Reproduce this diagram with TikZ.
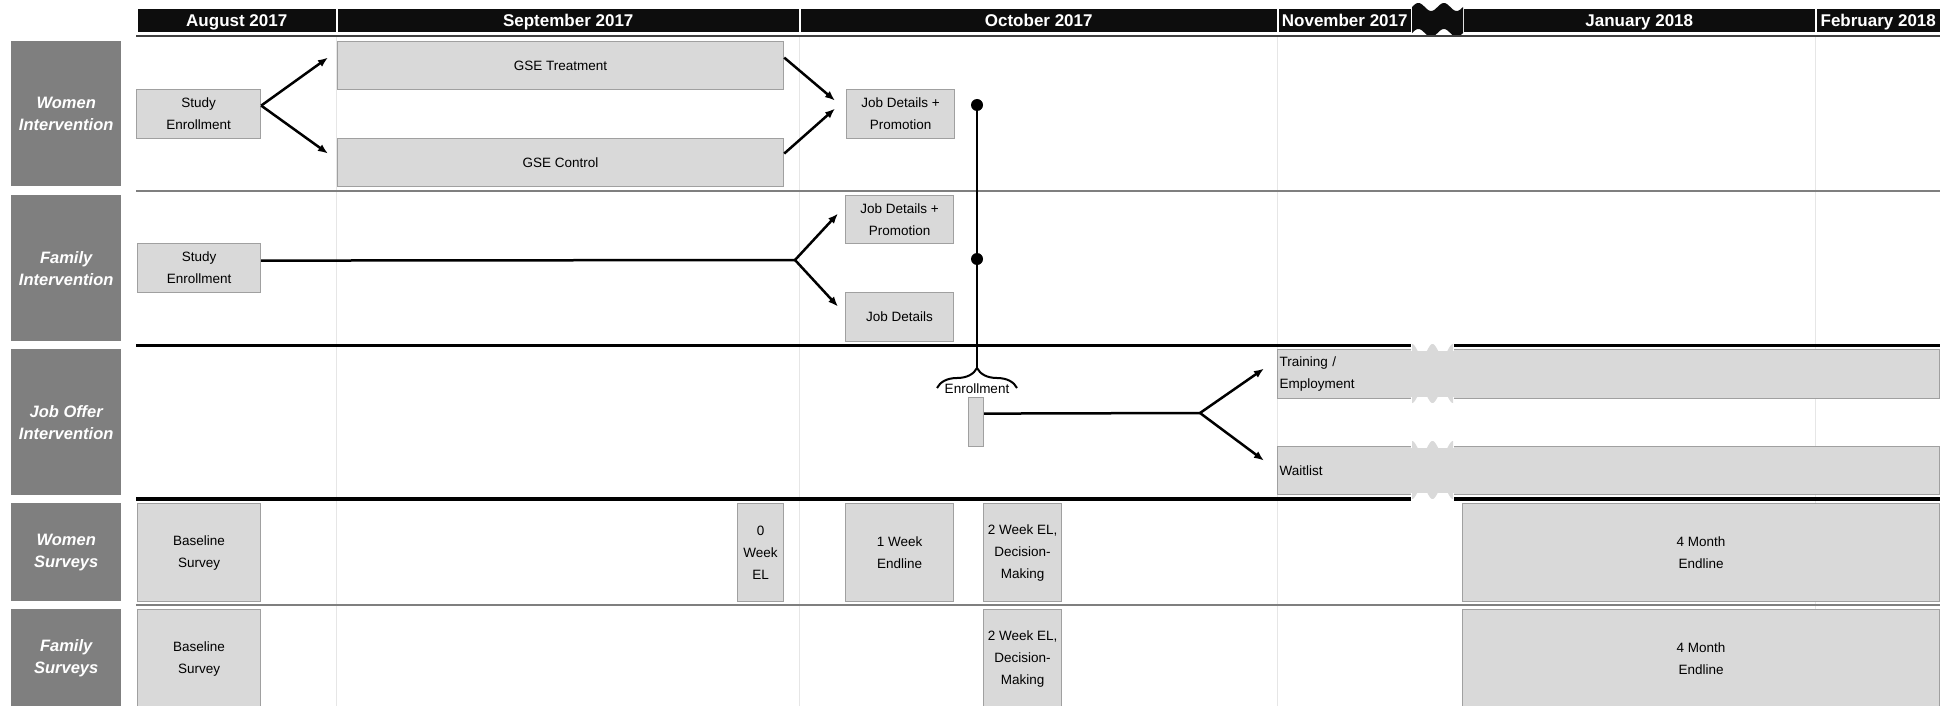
\documentclass[tikz,border=0pt]{standalone}
\usepackage{fontspec}
\setmainfont{Liberation Sans}
\usepackage{tikz}
\usetikzlibrary{arrows.meta,decorations.pathreplacing}

\definecolor{boxgray}{HTML}{D9D9D9}
\definecolor{boxline}{HTML}{A0A0A0}
\definecolor{rowgray}{HTML}{7F7F7F}
\definecolor{gridgray}{HTML}{E6E6E6}

\begin{document}
\begin{tikzpicture}[x=1pt, y=-1pt,
	month/.style={draw=white, line width=1.5pt, fill=black!95, text=white, anchor=north west, minimum height=24pt, inner sep=0pt, text height=12.2pt, text depth=0pt, font=\fontsize{17}{20}\selectfont\bfseries},
	rowlabel/.style={fill=rowgray, text=white, anchor=north west, minimum width=110pt, inner sep=0pt, align=center, font=\fontsize{16.5}{22}\selectfont\bfseries\itshape},
	stage/.style={draw=boxline, line width=1.2pt, fill=boxgray, anchor=north west, inner sep=2pt, align=center, font=\fontsize{13.5}{22}\selectfont},
	link/.style={line width=2.5pt},
	conn/.style={link, -{Latex[length=10pt,width=8pt]}},
	dot/.style={circle, fill=black, inner sep=0pt, minimum size=12pt}]
	\useasboundingbox (0,0) rectangle (1944,706);
	% month grid
	\foreach \gx in {336,799,1277,1815}
		\draw[gridgray, line width=1pt] (\gx,36) -- (\gx,706);
	\node[month, minimum width=200pt] (aug) at (136,8) {August 2017};
	\node[month, minimum width=463pt] (sep) at (336,8) {September 2017};
	\node[month, minimum width=478pt] (oct) at (799,8) {October 2017};
	\node[month, minimum width=134pt] (nov) at (1277,8) {November 2017};
	\node[month, minimum width=353pt] (jan) at (1462,8) {January 2018};
	\node[month, minimum width=125pt] (feb) at (1815,8) {February 2018};
	\fill[black!95] plot[domain=0:51, samples=52] ({1412+\x},{7-4*sin(14.118*\x)}) -- plot[domain=51:0, samples=52] ({1412+\x},{33-4*sin(14.118*\x)}) -- cycle;
	\draw[black!75, line width=1.5pt] (136,36) -- (1940,36);
	% row separators
	\draw[rowgray, line width=2pt] (136,191) -- (1940,191);
	\draw[line width=3pt] (136,345) -- (1940,345);
	\draw[line width=3.5pt] (136,499) -- (1940,499);
	\draw[rowgray, line width=2pt] (136,605) -- (1940,605);
	% row labels
	\node[rowlabel, minimum height=145pt] (wint) at (11,41) {Women\\Intervention};
	\node[rowlabel, minimum height=146pt] (fint) at (11,195) {Family\\Intervention};
	\node[rowlabel, minimum height=146pt] (jint) at (11,349) {Job Offer\\Intervention};
	\node[rowlabel, minimum height=98pt] (wsur) at (11,503) {Women\\Surveys};
	\node[rowlabel, minimum height=99pt] (fsur) at (11,609) {Family\\Surveys};
	% women intervention
	\node[stage, minimum width=124pt, minimum height=49pt] (sew) at (136,89) {Study\\Enrollment};
	\node[stage, minimum width=446pt, minimum height=48pt] (gset) at (337,41) {GSE Treatment};
	\node[stage, minimum width=446pt, minimum height=48pt] (gsec) at (337,138) {GSE Control};
	\node[stage, minimum width=108pt, minimum height=49pt] (jdpw) at (846,89) {Job Details +\\Promotion};
	\draw[conn] ([yshift=8.5pt]sew.east) -- ([xshift=-9pt,yshift=8pt]gset.west);
	\draw[conn] ([yshift=8.5pt]sew.east) -- ([xshift=-9pt,yshift=9pt]gsec.west);
	\draw[conn] ([yshift=8pt]gset.east) -- ([xshift=-11pt,yshift=13.5pt]jdpw.west);
	\draw[conn] ([yshift=9pt]gsec.east) -- ([xshift=-11pt,yshift=5.5pt]jdpw.west);
	% family intervention
	\node[stage, minimum width=123pt, minimum height=49pt] (sef) at (137,243) {Study\\Enrollment};
	\node[stage, minimum width=108pt, minimum height=48pt] (jdpf) at (845,195) {Job Details +\\Promotion};
	\node[stage, minimum width=108pt, minimum height=49pt] (jdf) at (845,292) {Job Details};
	\coordinate (ff) at (795,260);
	\draw[link] ([yshift=7.5pt]sef.east) -- (ff);
	\draw[conn] (ff) -- ([xshift=-7pt,yshift=6pt]jdpf.west);
	\draw[conn] (ff) -- ([xshift=-7pt,yshift=10.5pt]jdf.west);
	% enrollment into job offer
	\node[dot] (dw) at (977,105) {};
	\node[dot] (df) at (977,259) {};
	\coordinate (bl) at (937,388);
	\coordinate (br) at (1017,388);
	\coordinate (btip) at (977,368);
	\draw[link] (dw.center) -- (btip);
	\draw[line width=2pt, decorate, decoration={brace, amplitude=20pt}] (bl) -- (br);
	\node[font=\fontsize{13.5}{16}\selectfont] (enrl) at (977,389) {Enrollment};
	\node[stage, minimum width=15pt, minimum height=49pt] (enr) at (968,397) {};
	\node[stage, text width=658pt, align=left, minimum height=49pt] (train) at (1277,349) {Training /\\Employment};
	\node[stage, text width=658pt, align=left, minimum height=48pt] (wait) at (1277,446) {Waitlist};
	\coordinate (fj) at (1200,413);
	\draw[link] ([yshift=8.5pt]enr.east) -- (fj);
	\draw[conn] (fj) -- ([xshift=-13pt,yshift=5.5pt]train.west);
	\draw[conn] (fj) -- ([xshift=-13pt,yshift=10pt]wait.west);
	\foreach \yt/\yb in {349/398,446/494}{
		\fill[white] (1411,\yt-6) rectangle (1454,\yt+1.5);
		\fill[white] (1411,\yb-1.5) rectangle (1454,\yb+7);
		\fill[boxgray] plot[domain=0:41, samples=42] ({1412+\x},{\yt+1-6*cos(17.56*\x)}) -- plot[domain=41:0, samples=42] ({1412+\x},{\yb-1+6*cos(17.56*\x)}) -- cycle;
	}
	% surveys
	\node[stage, minimum width=123pt, minimum height=98pt] (bsw) at (137,503) {Baseline\\Survey};
	\node[stage, minimum width=46pt, minimum height=98pt] (zw) at (737,503) {0\\Week\\EL};
	\node[stage, minimum width=108pt, minimum height=98pt] (ow) at (845,503) {1 Week\\Endline};
	\node[stage, minimum width=78pt, minimum height=98pt] (tw) at (983,503) {2 Week EL,\\Decision-\\Making};
	\node[stage, minimum width=477pt, minimum height=98pt] (mw) at (1462,503) {4 Month\\Endline};
	\node[stage, minimum width=123pt, minimum height=99pt] (bsf) at (137,609) {Baseline\\Survey};
	\node[stage, minimum width=78pt, minimum height=99pt] (tf) at (983,609) {2 Week EL,\\Decision-\\Making};
	\node[stage, minimum width=477pt, minimum height=99pt] (mf) at (1462,609) {4 Month\\Endline};
\end{tikzpicture}
\end{document}
